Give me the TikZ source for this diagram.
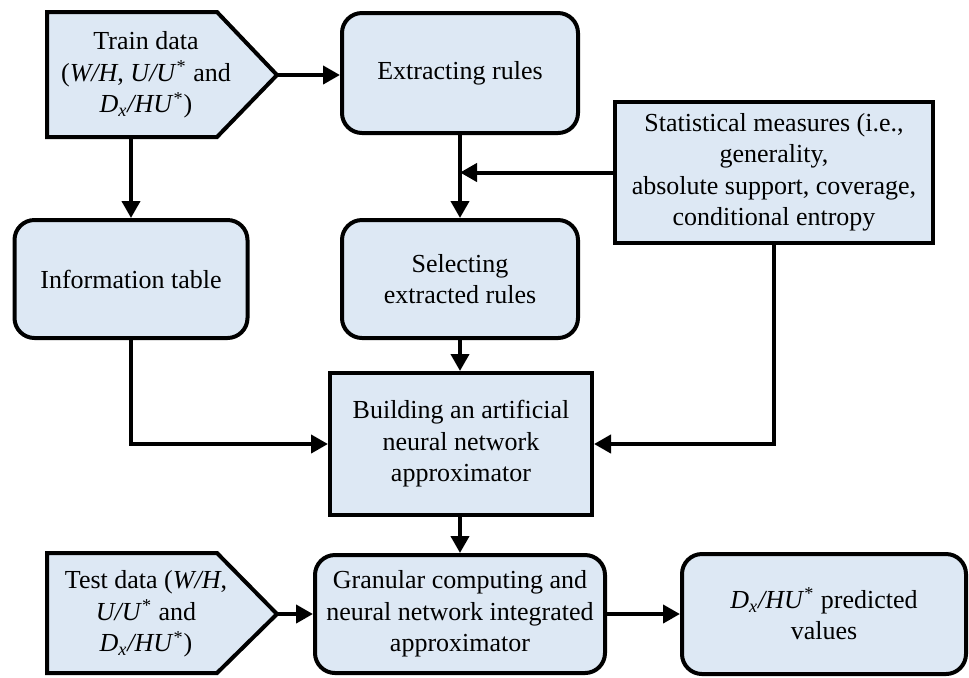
\documentclass[tikz,border=0pt]{standalone}
\usepackage{fontspec}
\setmainfont{Liberation Serif}
\usetikzlibrary{arrows.meta,calc}
\definecolor{boxfill}{HTML}{DDE8F4}
\begin{document}
\begin{tikzpicture}[x=0.5pt,y=-0.5pt,
  txt/.style={align=center,font=\fontsize{13}{15.75}\selectfont,inner sep=0pt},
  rbox/.style={txt,draw=black,line width=2pt,fill=boxfill,rounded corners=10pt},
  sbox/.style={txt,draw=black,line width=2pt,fill=boxfill},
  pent/.style={draw=black,line width=2pt,fill=boxfill,line join=miter},
  conn/.style={line width=2pt,-{Triangle[length=8.5pt,width=9pt]}},
  plain/.style={line width=2pt}]
\useasboundingbox (0,0) rectangle (969,677);

% pentagon inputs
\draw[pent] (47,12) -- (217,12) -- (277,75) -- (217,137) -- (47,137) -- cycle;
\coordinate (traintip) at (277,75);
\coordinate (trainbot) at (131,137);
\node[txt] (train) at (146,75) {Train data\\(\textit{W/H}, \textit{U/U}\textsuperscript{*} and\\\textit{D\textsubscript{x}/HU}\textsuperscript{*})};

\draw[pent] (47,553) -- (217,553) -- (277,614) -- (217,673) -- (47,673) -- cycle;
\coordinate (testtip) at (277,614);
\node[txt] (test) at (146,614) {Test data (\textit{W/H},\\\textit{U/U}\textsuperscript{*} and\\\textit{D\textsubscript{x}/HU}\textsuperscript{*})};

% boxes
\node[rbox,minimum width=118pt,minimum height=60pt] (extract) at (460,73) {Extracting rules};
\node[rbox,minimum width=118pt,minimum height=59pt] (select) at (460,279) {Selecting\\extracted rules};
\node[rbox,minimum width=116.5pt,minimum height=59pt] (info) at (131,279) {Information table};
\node[sbox,minimum width=159pt,minimum height=70.5pt] (stat) at (774,172.5) {Statistical measures (i.e.,\\generality,\\absolute support, coverage,\\conditional entropy};
\node[sbox,minimum width=131pt,minimum height=71pt] (build) at (461,444) {Building an artificial\\neural network\\approximator};
\node[rbox,minimum width=145pt,minimum height=59pt] (gran) at (460,614) {Granular computing and\\neural network integrated\\approximator};
\node[rbox,minimum width=142pt,minimum height=60pt] (pred) at (824,614) {\textit{D\textsubscript{x}/HU}\textsuperscript{*} predicted\\values};

% connectors
\draw[conn] (traintip) -- (traintip -| extract.west);
\draw[conn] (trainbot) -- (trainbot |- info.north);
\draw[conn] (extract.south) -- (select.north);
\draw[conn] (stat.west) -- (stat.west -| extract.south);
\draw[conn] (select.south) -- (select.south |- build.north);
\draw[conn] (info.south) |- (build.west);
\draw[conn] (stat.south) |- (build.east);
\draw[conn] (build.south -| gran.north) -- (gran.north);
\draw[conn] (testtip) -- (testtip -| gran.west);
\draw[conn] (gran.east) -- (pred.west);
\end{tikzpicture}
\end{document}
